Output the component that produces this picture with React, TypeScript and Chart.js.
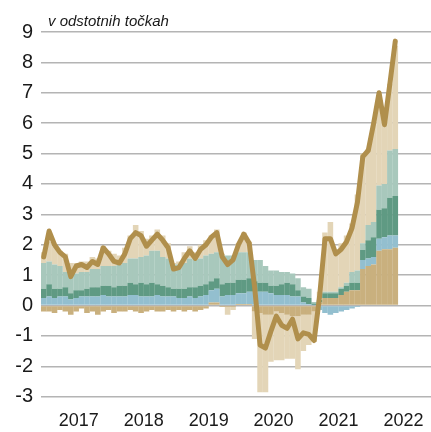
import React, { useEffect, useRef } from 'react';
import { Chart, registerables } from 'chart.js';

Chart.register(...registerables);

// Months: Dec 2016 .. May 2022
const months = [
  '2016-12',
  '2017-01','2017-02','2017-03','2017-04','2017-05','2017-06','2017-07','2017-08','2017-09','2017-10','2017-11','2017-12',
  '2018-01','2018-02','2018-03','2018-04','2018-05','2018-06','2018-07','2018-08','2018-09','2018-10','2018-11','2018-12',
  '2019-01','2019-02','2019-03','2019-04','2019-05','2019-06','2019-07','2019-08','2019-09','2019-10','2019-11','2019-12',
  '2020-01','2020-02','2020-03','2020-04','2020-05','2020-06','2020-07','2020-08','2020-09','2020-10','2020-11','2020-12',
  '2021-01','2021-02','2021-03','2021-04','2021-05','2021-06','2021-07','2021-08','2021-09','2021-10','2021-11','2021-12',
  '2022-01','2022-02','2022-03','2022-04','2022-05',
];

const yearLabels = ['2017', '2018', '2019', '2020', '2021', '2022'];
const yTickValues = [-3, -2, -1, 0, 1, 2, 3, 4, 5, 6, 7, 8, 9];

// Total (line)
const total = [
  1.6, 2.45, 2.0, 1.75, 1.6, 0.95, 1.3, 1.35, 1.25, 1.45,
  1.35, 1.9, 1.7, 1.45, 1.4, 1.7, 2.2, 2.4, 2.3, 1.95,
  2.15, 2.35, 2.15, 1.9, 1.2, 1.25, 1.55, 1.8, 1.55, 1.85,
  2.0, 2.25, 2.4, 1.6, 1.35, 1.5, 2.0, 2.35, 2.05, 0.6,
  -1.3, -1.4, -0.85, -0.35, -0.65, -0.75, -0.45, -1.1, -0.9, -0.95,
  -1.15, 0.3, 2.2, 2.2, 1.7, 1.85, 2.1, 2.55, 3.4, 4.9,
  5.1, 6.0, 7.0, 5.95, 7.3, 8.7,
];

// Component contributions (stack order: bottom -> top)
const compTan = [
  -0.2, -0.2, -0.25, -0.15, -0.2, -0.3, -0.2, -0.1, -0.25, -0.2, -0.3, -0.2, -0.15,
  -0.25, -0.2, -0.2, -0.15, -0.2, -0.25, -0.2, -0.15, -0.2, -0.2, -0.15, -0.2, -0.15,
  -0.2, -0.15, -0.2, -0.15, -0.1, 0.1, 0.1, -0.05, -0.05, -0.05, 0.05, 0.05, 0.05,
  -0.2, -0.25, -0.3, -0.3, -0.2, -0.25, -0.3, -0.35, -0.35, -0.3, -0.3, -0.2, 0.1,
  0.25, 0.25, 0.25, 0.35, 0.45, 0.5, 0.5, 1.2, 1.3, 1.35, 1.8, 1.85, 1.85, 1.9,
];
const compBlue = [
  0.25, 0.3, 0.25, 0.3, 0.3, 0.2, 0.25, 0.3, 0.3, 0.3, 0.3, 0.35, 0.3,
  0.3, 0.3, 0.3, 0.35, 0.35, 0.3, 0.3, 0.3, 0.35, 0.3, 0.3, 0.3, 0.25,
  0.25, 0.3, 0.25, 0.3, 0.35, 0.4, 0.45, 0.3, 0.35, 0.35, 0.35, 0.35, 0.4,
  0.45, 0.45, 0.45, 0.4, 0.35, 0.35, 0.35, 0.3, 0.3, 0.1, 0.05, 0.02, -0.15,
  -0.25, -0.3, -0.25, -0.2, -0.15, -0.1, -0.05, 0.3, 0.25, 0.25, 0.4, 0.4, 0.45, 0.4,
];
const compDarkGreen = [
  0.3, 0.4, 0.3, 0.25, 0.3, 0.2, 0.25, 0.2, 0.25, 0.3, 0.3, 0.3, 0.35,
  0.3, 0.35, 0.35, 0.4, 0.35, 0.45, 0.4, 0.45, 0.35, 0.35, 0.3, 0.25, 0.3,
  0.3, 0.3, 0.35, 0.35, 0.35, 0.3, 0.35, 0.4, 0.4, 0.4, 0.45, 0.45, 0.45,
  0.35, 0.3, 0.3, 0.25, 0.3, 0.35, 0.4, 0.4, 0.2, 0.2, 0.2, 0.05, 0.08,
  0.15, 0.15, 0.15, 0.2, 0.2, 0.25, 0.25, 0.33, 0.6, 0.65, 0.95, 0.95, 1.25, 1.3,
];
const compLightGreen = [
  0.85, 0.75, 0.8, 0.75, 0.5, 0.6, 0.55, 0.6, 0.55, 0.6, 0.6, 0.65, 0.65,
  0.7, 0.7, 0.75, 0.8, 0.85, 0.85, 0.95, 1.05, 1.1, 0.95, 0.95, 0.8, 0.8,
  0.85, 0.95, 0.9, 0.9, 0.95, 0.9, 0.85, 0.95, 0.9, 0.9, 0.9, 0.9, 0.85,
  0.7, 0.75, 0.55, 0.5, 0.5, 0.4, 0.35, 0.35, 0.4, 0.3, 0.3, 0.05, 0.02,
  0.05, 0.05, 0.05, 0.05, 0.1, 0.35, 0.4, 0.22, 0.5, 0.5, 0.8, 0.8, 1.55, 1.55,
];
const compBeige = [
  0.35, 0.65, 0.6, 0.5, 0.6, 0.4, 0.35, 0.35, 0.35, 0.4, 0.35, 0.65, 0.5,
  0.4, 0.3, 0.5, 0.75, 1.1, 0.85, 0.55, 0.5, 0.7, 0.7, 0.5, 0.05, 0.1,
  0.35, 0.4, 0.25, 0.45, 0.5, 0.6, 0.75, 0.05, -0.25, -0.1, 0.3, 0.65, 0.35,
  -0.9, -2.6, -2.55, -1.55, -1.6, -1.55, -1.45, -1.4, -1.75, -1.2, -1.0, -1.0, 0.25,
  1.95, 2.3, 1.35, 1.45, 1.55, 1.6, 2.5, 2.95, 2.5, 3.2, 2.75, 2.2, 2.2, 3.4,
];

const components = [
  { data: compTan, color: '#C9B07E' },
  { data: compBlue, color: '#93BFCF' },
  { data: compDarkGreen, color: '#5F9A83' },
  { data: compLightGreen, color: '#A8C8BC' },
  { data: compBeige, color: '#E3D5B7' },
];

const FONT = '"Liberation Sans", Arial, sans-serif';

export default function App() {
  const ref = useRef<HTMLCanvasElement>(null);

  useEffect(() => {
    const canvas = ref.current;
    if (!canvas) return;
    const pts = (arr: number[]) => arr.map((v, i) => ({ x: i, y: v }));
    const yearTicks = yearLabels.map((y) => {
      const idx = months.indexOf(`${y}-01`);
      return { value: idx + 5.5, label: y };
    });

    const chart = new Chart(canvas, {
      type: 'bar',
      data: {
        datasets: [
          {
            type: 'line',
            label: 'skupaj',
            data: pts(total),
            borderColor: '#B08F4C',
            borderWidth: 5,
            pointRadius: 0,
            tension: 0,
            borderJoinStyle: 'round',
            borderCapStyle: 'round',
            order: 0,
            stack: 'total',
          } as any,
          ...components.map((c, k) => ({
            type: 'bar',
            label: 'c' + k,
            data: pts(c.data),
            backgroundColor: c.color,
            borderWidth: 0,
            categoryPercentage: 1,
            barPercentage: 1.03,
            order: 1,
            stack: 'parts',
          })) as any,
        ],
      },
      options: {
        responsive: false,
        animation: false,
        layout: { padding: { top: 32, left: 0, right: 0, bottom: 0 } },
        plugins: {
          legend: { display: false },
          tooltip: { enabled: false },
          title: { display: false },
        },
        scales: {
          x: {
            type: 'linear',
            min: -0.5,
            max: 71.6,
            offset: false,
            stacked: true,
            grid: { display: false, drawTicks: false },
            border: { display: false },
            afterBuildTicks: (axis: any) => {
              axis.ticks = yearTicks.map((t) => ({ value: t.value }));
            },
            afterFit: (axis: any) => {
              axis.height = 35.3;
              axis.paddingLeft = 0;
              axis.paddingRight = 0;
            },
            ticks: {
              autoSkip: false,
              minRotation: 0,
              maxRotation: 0,
              padding: 14,
              color: '#1a1a1a',
              font: { family: FONT, size: 18 },
              callback: (value: any) => {
                const t = yearTicks.find((yt) => Math.abs(yt.value - Number(value)) < 0.01);
                return t ? t.label : '';
              },
            },
          },
          y: {
            type: 'linear',
            min: -3,
            max: 9,
            stacked: true,
            grid: { color: '#B4B4B4', lineWidth: 1.6, drawTicks: false },
            border: { display: false },
            afterBuildTicks: (axis: any) => {
              axis.ticks = yTickValues.map((v) => ({ value: v }));
            },
            afterFit: (axis: any) => {
              axis.width = 41;
            },
            ticks: {
              autoSkip: false,
              minRotation: 0,
              maxRotation: 0,
              padding: 8,
              color: '#1a1a1a',
              font: { family: FONT, size: 20 },
              callback: (value: any) => String(value),
            },
          },
        },
      },
    });
    return () => chart.destroy();
  }, []);

  return (
    <div style={{ position: 'absolute', left: 0, top: 0, width: 431, height: 432, background: '#fff' }}>
      <canvas ref={ref} width={431} height={432} style={{ display: 'block' }} />
      <div
        style={{
          position: 'absolute',
          left: 48,
          top: 12,
          fontFamily: FONT,
          fontStyle: 'italic',
          fontSize: 15,
          color: '#1a1a1a',
          whiteSpace: 'nowrap',
        }}
      >
        v odstotnih točkah
      </div>
    </div>
  );
}
